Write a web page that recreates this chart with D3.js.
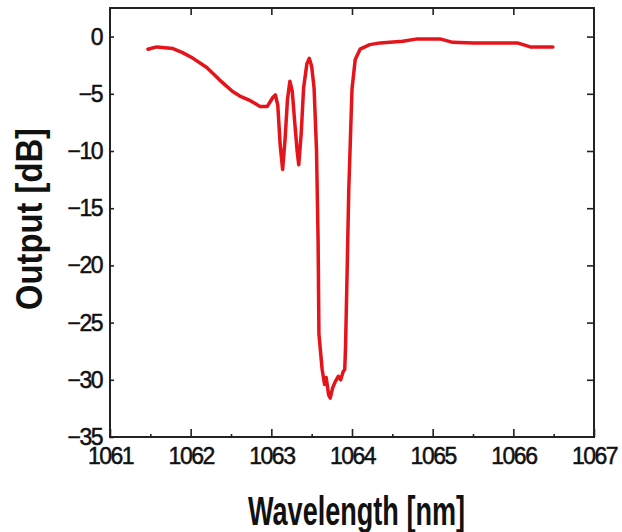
<!DOCTYPE html>
<html>
<head>
<meta charset="utf-8">
<script src="https://cdn.jsdelivr.net/npm/d3@7"></script>
<style>
  html, body { margin: 0; padding: 0; background: #fff; }
  svg { display: block; }
</style>
</head>
<body>
<div id="chart"></div>
<script>
// transmission spectrum
const wavelength = [
  1061.47, 1061.58, 1061.78, 1061.90, 1062.03, 1062.20, 1062.36, 1062.52, 1062.61, 1062.74,
  1062.86, 1062.95, 1063.02, 1063.05, 1063.08, 1063.11, 1063.14, 1063.17, 1063.20, 1063.23,
  1063.26, 1063.29, 1063.32, 1063.34, 1063.37, 1063.40, 1063.44, 1063.47, 1063.50, 1063.53,
  1063.56, 1063.58, 1063.59, 1063.63, 1063.66, 1063.68, 1063.71, 1063.73, 1063.76, 1063.79,
  1063.83, 1063.86, 1063.89, 1063.91, 1063.92, 1063.94, 1063.96, 1064.00, 1064.04, 1064.10,
  1064.22, 1064.35, 1064.63, 1064.81, 1065.09, 1065.25, 1065.50, 1066.05, 1066.21, 1066.49
];
const output = [
  -1.1, -0.9, -1.05, -1.4, -1.9, -2.7, -3.8, -4.8, -5.2, -5.6,
  -6.1, -6.1, -5.3, -5.1, -6.0, -9.5, -11.6, -9.0, -5.5, -3.9,
  -4.8, -7.5, -10.0, -11.2, -8.5, -4.5, -2.4, -1.9, -2.6, -4.5,
  -9.9, -18.0, -26.0, -29.1, -30.4, -29.8, -31.3, -31.6, -30.7, -30.2,
  -29.7, -30.0, -29.3, -29.1, -27.1, -20.4, -13.4, -4.6, -2.0, -1.1,
  -0.7, -0.55, -0.4, -0.2, -0.2, -0.5, -0.55, -0.55, -0.9, -0.9
];
const xTicks = [1061, 1062, 1063, 1064, 1065, 1066, 1067];
const xMinorTicks = [1061.5, 1062.5, 1063.5, 1064.5, 1065.5, 1066.5];
const yTicks = [0, -5, -10, -15, -20, -25, -30, -35];

const W = 622;
const H = 532;
const box = { left: 110, right: 594, top: 8, bottom: 437 };
const font = "'Liberation Sans', Arial, sans-serif";

const svg = d3.select('#chart').append('svg')
  .attr('width', W)
  .attr('height', H);

const x = d3.scaleLinear().domain([1061, 1067]).range([box.left, box.right]);
const y = d3.scaleLinear().domain([-35, 2.5]).range([box.bottom, box.top]);

// bottom axis, ticks pointing in
const gx = svg.append('g')
  .attr('transform', `translate(0,${box.bottom})`)
  .call(d3.axisBottom(x)
    .tickValues(xTicks)
    .tickSize(-8)
    .tickPadding(11)
    .tickFormat(d3.format('d')));
svg.append('g')
  .attr('transform', `translate(0,${box.bottom})`)
  .call(d3.axisBottom(x).tickValues(xMinorTicks).tickSize(-3).tickFormat(() => ''));

// top axis, no labels
svg.append('g')
  .attr('transform', `translate(0,${box.top})`)
  .call(d3.axisTop(x).tickValues(xTicks.slice(1, -1)).tickSize(-7).tickFormat(() => ''));

// left axis
const gy = svg.append('g')
  .attr('transform', `translate(${box.left},0)`)
  .call(d3.axisLeft(y)
    .tickValues(yTicks)
    .tickSize(-4)
    .tickPadding(8)
    .tickFormat(d3.format('d')));

// right axis
svg.append('g')
  .attr('transform', `translate(${box.right},0)`)
  .call(d3.axisRight(y).tickValues(yTicks.slice(0, -1)).tickSize(-7).tickFormat(() => ''));

svg.selectAll('.domain').remove();
svg.selectAll('.tick line').attr('stroke', '#222').attr('stroke-width', 1.6);

[gx, gy].forEach((g) => {
  g.selectAll('text')
    .attr('fill', '#111')
    .attr('stroke', '#111')
    .attr('stroke-width', 0.5)
    .style('font-family', font)
    .style('font-size', '23px')
    .style('letter-spacing', '-1.5px');
});
gy.selectAll('text').attr('dy', '0.33em');

// frame
svg.append('rect')
  .attr('x', box.left)
  .attr('y', box.top)
  .attr('width', box.right - box.left)
  .attr('height', box.bottom - box.top)
  .attr('fill', 'none')
  .attr('stroke', '#222')
  .attr('stroke-width', 2);

// the curve
const line = d3.line()
  .x((d, i) => x(wavelength[i]))
  .y(d => y(d));

svg.append('path')
  .datum(output)
  .attr('d', line)
  .attr('fill', 'none')
  .attr('stroke', '#e5141b')
  .attr('stroke-width', 3.5)
  .attr('stroke-linejoin', 'round')
  .attr('stroke-linecap', 'round');

// axis titles
svg.append('text')
  .attr('x', 248)
  .attr('y', 525)
  .attr('textLength', 217)
  .attr('lengthAdjust', 'spacingAndGlyphs')
  .style('font-family', font)
  .style('font-weight', 'bold')
  .style('font-size', '40px')
  .attr('fill', '#111')
  .text('Wavelength [nm]');

svg.append('text')
  .attr('transform', 'translate(42,310) rotate(-90)')
  .attr('textLength', 182)
  .attr('lengthAdjust', 'spacingAndGlyphs')
  .style('font-family', font)
  .style('font-weight', 'bold')
  .style('font-size', '36px')
  .attr('fill', '#111')
  .text('Output [dB]');
</script>
</body>
</html>
